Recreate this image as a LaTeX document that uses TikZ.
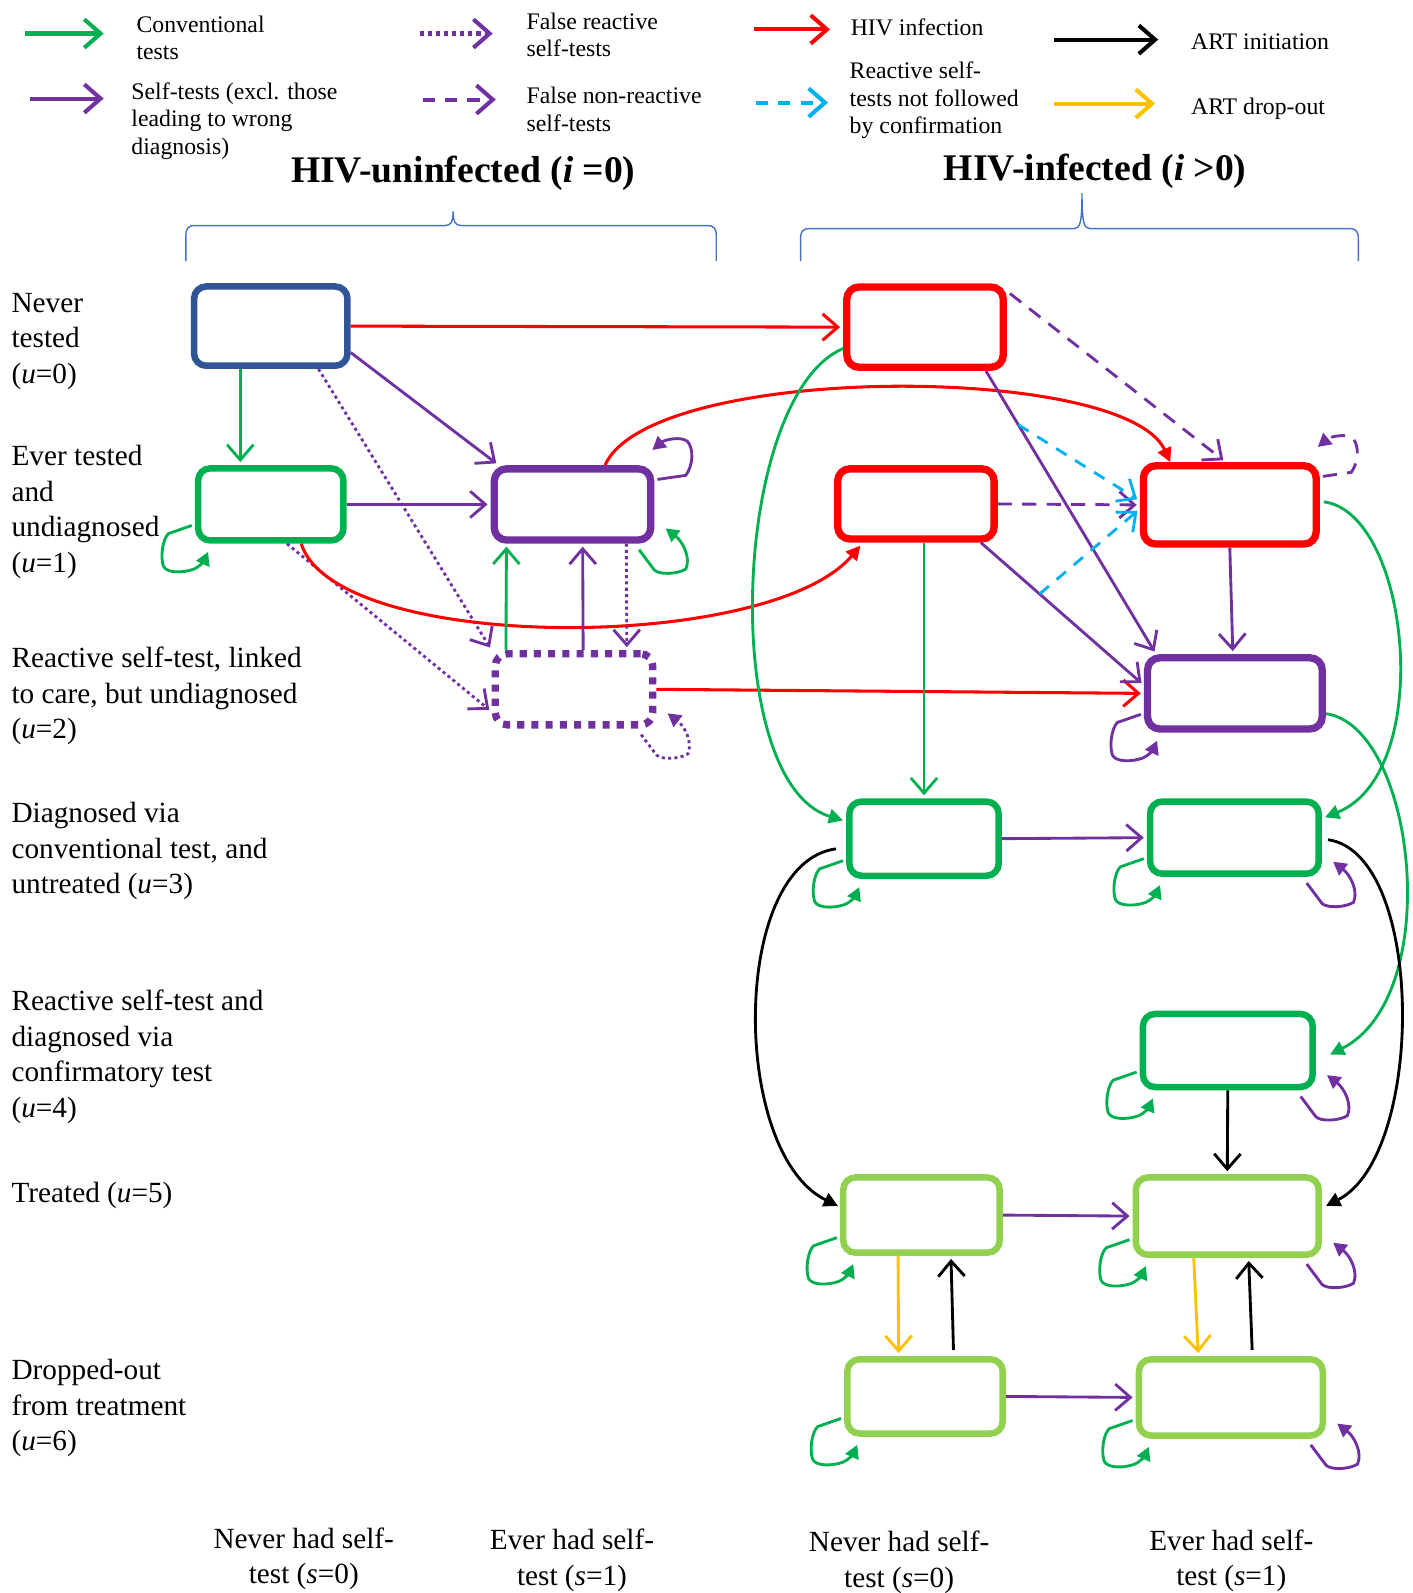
\documentclass[tikz,border=0pt]{standalone}
\usepackage{fontspec}
\setmainfont{Liberation Serif}
\usetikzlibrary{arrows.meta,calc}
\definecolor{cgreen}{HTML}{00B050}
\definecolor{cpurple}{HTML}{7030A0}
\definecolor{cred}{HTML}{FF0000}
\definecolor{cnavy}{HTML}{2F5597}
\definecolor{clgreen}{HTML}{92D050}
\definecolor{ccyan}{HTML}{00B0F0}
\definecolor{corange}{HTML}{FFC000}
\definecolor{cbrace}{HTML}{4472C4}
\newcommand\lpBL[2]{\begin{scope}[shift={(#2.south west)}]\draw[lp,#1] (-3,-18) -- (-26,-10) .. controls (-32,-4) and (-34,13) .. (-31,22) .. controls (-28,29) and (-12,29) .. (-1,25) .. controls (4,23) and (9,17) .. (13,8);\end{scope}}
\newcommand\lpBR[2]{\begin{scope}[shift={(#2.south east)}]\draw[lp,#1] (-15,6) -- (0,26) .. controls (5,31) and (23,30) .. (31,25) .. controls (36,14) and (28,-2) .. (11,-15);\end{scope}}
\newcommand\lpTR[2]{\begin{scope}[shift={(#2.north east)}]\draw[lp,#1] (3,14) -- (31,10) .. controls (38,0) and (39,-15) .. (33,-23) .. controls (27,-29) and (10,-25) .. (-2,-15);\end{scope}}
\begin{document}
\begin{tikzpicture}[x=0.5pt,y=-0.5pt,
 bx/.style={draw,rounded corners=6pt,line width=3.2pt,inner sep=0pt},
 op/.style={-{Straight Barb[length=7.5pt,width=13pt]}, line width=1.4pt, shorten >=1.5pt},
 fl/.style={-{Triangle[length=7pt,width=7pt]}, line width=1.4pt},
 lp/.style={-{Triangle[length=6.5pt,width=7pt]}, line width=1.4pt},
 dsh/.style={dash pattern=on 7pt off 5pt},
 dts/.style={dash pattern=on 1.5pt off 1.6pt},
 lg/.style={line width=2pt,-{Straight Barb[length=8pt,width=14pt]}},
 lgtext/.style={anchor=west,align=left,font=\fontsize{11.7}{13.5}\selectfont,inner sep=0pt},
 rowlab/.style={anchor=west,align=left,font=\fontsize{14.4}{17.5}\selectfont,inner sep=0pt},
 collab/.style={align=center,font=\fontsize{14.4}{17.5}\selectfont,inner sep=0pt},
 head/.style={font=\fontsize{18.5}{21}\selectfont\bfseries,inner sep=0pt},
]
\useasboundingbox (0,0) rectangle (1390,1568);

% ---------- legend ----------
\coordinate (g1a) at (25,33);   \coordinate (g1b) at (102,33);
\coordinate (g2a) at (30,97);   \coordinate (g2b) at (102,97);
\coordinate (g3a) at (413,33);  \coordinate (g3b) at (485,33);
\coordinate (g4a) at (416,98);  \coordinate (g4b) at (488,98);
\coordinate (g5a) at (742,29);  \coordinate (g5b) at (817,29);
\coordinate (g6a) at (744,101); \coordinate (g6b) at (815,101);
\coordinate (g7a) at (1037,39); \coordinate (g7b) at (1140,39);
\coordinate (g8a) at (1037,102);\coordinate (g8b) at (1137,102);
\draw[lg,cgreen] (g1a) -- (g1b);
\draw[lg,cpurple] (g2a) -- (g2b);
\draw[lg,cpurple,dash pattern=on 2pt off 2pt] (g3a) -- (g3b);
\draw[lg,cpurple,dash pattern=on 6pt off 5pt] (g4a) -- (g4b);
\draw[lg,cred] (g5a) -- (g5b);
\draw[lg,ccyan,dash pattern=on 6pt off 5pt] (g6a) -- (g6b);
\draw[lg,black] (g7a) -- (g7b);
\draw[lg,corange] (g8a) -- (g8b);
\node[lgtext] (t1) at (134,37) {Conventional\\tests};
\node[lgtext] (t2) at (129,119) {Self-tests (excl. those\\leading to wrong\\diagnosis)};
\node[lgtext] (t3) at (518,34.5) {False reactive\\self-tests};
\node[lgtext] (t4) at (518,107.5) {False non-reactive\\self-tests};
\node[lgtext] (t5) at (837,27) {HIV infection};
\node[lgtext] (t6) at (836,99) {Reactive self-\\tests not followed\\by confirmation};
\node[lgtext] (t7) at (1172,41) {ART initiation};
\node[lgtext] (t8) at (1172,107) {ART drop-out};

% ---------- headings and braces ----------
\node[head] (h0) at (456,171) {HIV-uninfected (\textit{i} =0)};
\node[head] (h1) at (1078,169) {HIV-infected (\textit{i} >0)};
\draw[cbrace,line width=0.7pt] (183,257) -- (183,232) .. controls (183,225) and (185,222) .. (192,222) -- (438,222) .. controls (444,222) and (446,218) .. (446,208) .. controls (446,218) and (448,222) .. (454,222) -- (696,222) .. controls (703,222) and (705,225) .. (705,232) -- (705,257);
\draw[cbrace,line width=0.7pt] (788,257) -- (788,235) .. controls (788,228) and (790,225) .. (797,225) -- (1057,225) .. controls (1063,225) and (1065,220) .. (1065,190) .. controls (1065,220) and (1067,225) .. (1073,225) -- (1328,225) .. controls (1335,225) and (1337,228) .. (1337,235) -- (1337,257);

% ---------- row and column labels ----------
\node[rowlab] (r0) at (11,336) {Never\\tested\\(\textit{u}=0)};
\node[rowlab] (r1) at (11,504) {Ever tested\\and\\undiagnosed\\(\textit{u}=1)};
\node[rowlab] (r2) at (11,685) {Reactive self-test, linked\\to care, but undiagnosed\\(\textit{u}=2)};
\node[rowlab] (r3) at (11,838) {Diagnosed via\\conventional test, and\\untreated (\textit{u}=3)};
\node[rowlab] (r4) at (11,1040) {Reactive self-test and\\diagnosed via\\confirmatory test\\(\textit{u}=4)};
\node[rowlab] (r5) at (11,1177) {Treated (\textit{u}=5)};
\node[rowlab] (r6) at (11,1386) {Dropped-out\\from treatment\\(\textit{u}=6)};
\node[collab] (k0) at (299,1534.5) {Never had self-\\test (\textit{s}=0)};
\node[collab] (k1) at (563,1536) {Ever had self-\\test (\textit{s}=1)};
\node[collab] (k2) at (885,1538) {Never had self-\\test (\textit{s}=0)};
\node[collab] (k3) at (1212,1536.5) {Ever had self-\\test (\textit{s}=1)};

% ---------- boxes ----------
\node[bx,draw=cnavy,minimum width=75.5pt,minimum height=39pt] (A0) at (266.5,321) {};
\node[bx,draw=cgreen,minimum width=71.5pt,minimum height=35.5pt] (A1) at (266.5,496.5) {};
\node[bx,draw=cpurple,line width=3.6pt,minimum width=77pt,minimum height=35pt] (B1) at (563.5,496.5) {};
\node[bx,draw=cpurple,line width=3.6pt,dash pattern=on 3.5pt off 3.5pt,minimum width=77.5pt,minimum height=35pt] (B2) at (565,678.5) {};
\node[bx,draw=cred,line width=3.6pt,minimum width=77pt,minimum height=39.5pt] (C0) at (910.5,322) {};
\node[bx,draw=cred,line width=3.6pt,minimum width=77pt,minimum height=34.5pt] (C1) at (901.5,496) {};
\node[bx,draw=cred,line width=3.6pt,minimum width=85pt,minimum height=38.5pt] (D1) at (1210.5,497) {};
\node[bx,draw=cpurple,line width=3.6pt,minimum width=86pt,minimum height=35pt] (D2) at (1215.5,682.5) {};
\node[bx,draw=cgreen,minimum width=73.5pt,minimum height=36.5pt] (C3) at (909.5,825.5) {};
\node[bx,draw=cgreen,minimum width=83pt,minimum height=35.5pt] (D3) at (1215,824.5) {};
\node[bx,draw=cgreen,minimum width=83.5pt,minimum height=36pt] (D4) at (1208.5,1034) {};
\node[bx,draw=clgreen,minimum width=77pt,minimum height=37pt] (C5) at (907,1196) {};
\node[bx,draw=clgreen,minimum width=90pt,minimum height=38pt] (D5) at (1208,1197) {};
\node[bx,draw=clgreen,minimum width=76.5pt,minimum height=36.5pt] (C6) at (910.5,1374.5) {};
\node[bx,draw=clgreen,minimum width=90.5pt,minimum height=37.5pt] (D6) at (1211.5,1375.5) {};

% ---------- connectors: uninfected ----------
\draw[op,cred,line width=1.5pt] (A0.east) -- (C0.west);
\draw[op,cgreen] ($(A0.south)+(-30,0)$) -- ($(A1.north)+(-30,0)$);
\draw[op,cpurple] ($(A0.east)+(0,26)$) -- ($(B1.north west)+(8,0)$);
\draw[op,cpurple,dts] ($(A0.south)+(47,0)$) -- (B2.north west);
\draw[op,cpurple,dts] ($(A1.south)+(16,0)$) -- ($(B2.west)+(0,22)$);
\draw[op,cpurple] (A1.east) -- (B1.west);
\draw[fl,cred,line width=1.5pt] ($(A1.south)+(30,0)$) .. controls +(34,108) and +(-90,106) .. ($(C1.south west)+(26,3)$);
\draw[fl,cred,line width=1.5pt] ($(B1.north)+(32,0)$) .. controls +(45,-101) and +(-45,-98) .. ($(D1.north west)+(30,0)$);
\draw[op,cgreen] ($(B2.north)+(-67,0)$) -- ($(B1.south)+(-65,0)$);
\draw[op,cpurple] ($(B2.north)+(9,0)$) -- ($(B1.south)+(10,0)$);
\draw[op,cpurple,dts] ($(B1.south)+(53,0)$) -- ($(B2.north)+(52,0)$);
\draw[op,cred,line width=1.5pt] (B2.east) -- (D2.west);

% ---------- connectors: infected ----------
\draw[fl,cgreen] ($(C0.west)+(0,21)$) .. controls +(-110,47) and +(-123,-37) .. ($(C3.west)+(-3,-18)$);
\draw[op,cpurple,dsh] ($(C0.north east)+(3,10)$) -- ($(D1.north)+(-4,0)$);
\draw[op,cpurple] ($(C0.south)+(60,0)$) -- coordinate[pos=0.19] (bq1) ($(D2.north west)+(12,0)$);
\draw[op,cpurple] ($(C1.south)+(64,0)$) -- coordinate[pos=0.36] (bq2) ($(D2.west)+(0,-8)$);
\draw[op,cpurple,dsh] (C1.east) -- (D1.west);
\draw[op,ccyan,dash pattern=on 6pt off 5pt] (bq1) -- ($(D1.west)+(0,-4)$);
\draw[op,ccyan,dash pattern=on 6pt off 5pt] (bq2) -- ($(D1.west)+(0,4)$);
\draw[op,cgreen] ($(C1.south)+(8,0)$) -- (C3.north);
\draw[op,cpurple] (D1.south) -- ($(D2.north)+(-2,0)$);
\draw[fl,cgreen] ($(D1.east)+(4,-3)$) .. controls +(85,11) and +(109,-44) .. ($(D3.east)+(3,-20)$);
\draw[fl,cgreen] ($(D2.east)+(0,20)$) .. controls +(88,12) and +(114,-58) .. ($(D4.east)+(14,4)$);
\draw[op,cpurple] (C3.east) -- (D3.west);
\draw[fl,black] ($(C3.west)+(-10,10)$) .. controls +(-104,14) and +(-106,-52) .. ($(C5.west)+(-2,-9)$);
\draw[fl,black] ($(D3.east)+(6,2)$) .. controls +(96,14) and +(98,-50) .. ($(D5.east)+(4,-10)$);
\draw[op,black] (D4.south) -- (D5.north);
\draw[op,cpurple] (C5.east) -- (D5.west);
\draw[op,corange] ($(C5.south)+(-23,0)$) -- ($(C6.north)+(-26,0)$);
\draw[op,black] ($(C6.north)+(28,-6)$) -- ($(C5.south)+(29,0)$);
\draw[op,corange] ($(D5.south)+(-33,0)$) -- ($(D6.north)+(-32,0)$);
\draw[op,black] ($(D6.north)+(21,-6)$) -- ($(D5.south)+(21,0)$);
\draw[op,cpurple] (C6.east) -- (D6.west);

% ---------- self-loops ----------
\lpBL{cgreen}{A1}
\lpTR{cpurple}{B1}
\lpBR{cgreen}{B1}
\lpBR{cpurple,dts}{B2}
\lpTR{cpurple,dsh}{D1}
\lpBL{cpurple}{D2}
\lpBL{cgreen}{C3}
\lpBL{cgreen}{D3}
\lpBR{cpurple}{D3}
\lpBL{cgreen}{D4}
\lpBR{cpurple}{D4}
\lpBL{cgreen}{C5}
\lpBL{cgreen}{D5}
\lpBR{cpurple}{D5}
\lpBL{cgreen}{C6}
\lpBL{cgreen}{D6}
\lpBR{cpurple}{D6}
\end{tikzpicture}
\end{document}
